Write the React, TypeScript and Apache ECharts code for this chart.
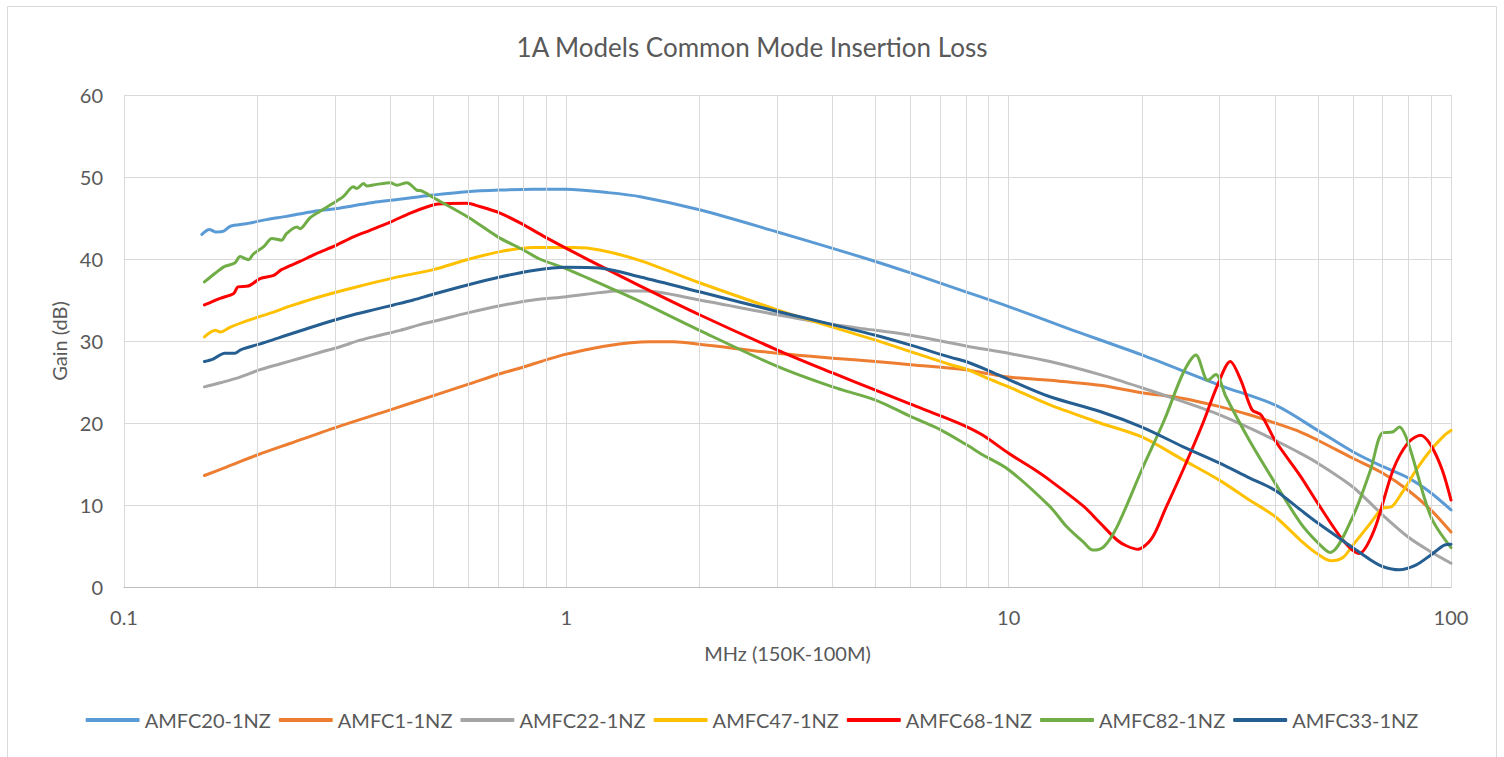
import React, { useEffect, useRef } from "react";
import * as echarts from "echarts";

const TITLE = "1A Models Common Mode Insertion Loss";
const X_NAME = "MHz (150K-100M)";
const Y_NAME = "Gain (dB)";
const SERIES_NAMES = ["AMFC20-1NZ", "AMFC1-1NZ", "AMFC22-1NZ", "AMFC47-1NZ", "AMFC68-1NZ", "AMFC82-1NZ", "AMFC33-1NZ"];
const COLORS = ["#5B9BD5", "#ED7D31", "#A5A5A5", "#FFC000", "#FF0000", "#70AD47", "#255E91"];
const MINOR_FREQS = [0.2, 0.3, 0.4, 0.5, 0.6, 0.7, 0.8, 0.9, 2, 3, 4, 5, 6, 7, 8, 9, 20, 30, 40, 50, 60, 70, 80, 90];

// [frequency MHz, gain dB]
const amfc20 = [[0.15, 43.0], [0.156, 43.6], [0.161, 43.3], [0.168, 43.4], [0.174, 44.0], [0.189, 44.3], [0.21, 44.8], [0.233, 45.2], [0.268, 45.8], [0.297, 46.1], [0.33, 46.5], [0.366, 46.9], [0.407, 47.2], [0.451, 47.5], [0.5, 47.8], [0.595, 48.2], [0.708, 48.4], [0.842, 48.5], [1.0, 48.5], [1.24, 48.1], [1.47, 47.6], [2, 46.0], [3, 43.3], [4, 41.3], [5, 39.7], [6, 38.3], [8, 36.0], [10, 34.2], [13.5, 31.6], [20, 28.3], [30, 24.6], [40, 22.2], [50, 19.1], [60, 16.5], [70, 14.7], [80, 13.3], [90, 11.5], [100, 9.4]];
const amfc1 = [[0.152, 13.6], [0.168, 14.5], [0.2, 16.1], [0.237, 17.5], [0.303, 19.5], [0.4, 21.6], [0.505, 23.4], [0.606, 24.8], [0.708, 26.0], [0.798, 26.8], [0.9, 27.7], [1.0, 28.4], [1.23, 29.4], [1.54, 29.9], [1.75, 29.9], [2, 29.6], [3, 28.5], [4, 27.9], [5, 27.5], [6, 27.1], [8, 26.5], [9, 26.0], [10, 25.6], [12.4, 25.2], [16.1, 24.6], [20, 23.7], [24.8, 23.0], [30, 22.0], [35, 21.0], [40, 20.0], [45.7, 18.9], [50, 17.9], [60, 15.7], [70, 13.9], [80, 11.8], [90, 9.4], [100, 6.7]];
const amfc22 = [[0.152, 24.4], [0.165, 24.9], [0.183, 25.6], [0.203, 26.5], [0.225, 27.2], [0.25, 27.9], [0.277, 28.6], [0.308, 29.3], [0.342, 30.1], [0.379, 30.7], [0.421, 31.3], [0.467, 32.0], [0.519, 32.6], [0.595, 33.4], [0.708, 34.3], [0.842, 35.0], [1.0, 35.4], [1.19, 35.9], [1.3, 36.1], [1.5, 36.1], [2, 35.0], [3, 33.2], [4, 32.0], [5, 31.3], [6, 30.7], [8, 29.4], [10, 28.5], [12.4, 27.5], [16.1, 25.9], [20, 24.3], [24.8, 22.6], [30, 21.0], [35, 19.4], [40, 17.9], [45.7, 16.3], [50, 15.1], [60, 12.2], [70, 8.8], [80, 6.1], [90, 4.3], [100, 2.9]];
const amfc47 = [[0.152, 30.5], [0.161, 31.3], [0.165, 31.1], [0.174, 31.7], [0.193, 32.6], [0.214, 33.4], [0.242, 34.4], [0.277, 35.4], [0.33, 36.5], [0.407, 37.7], [0.5, 38.7], [0.595, 39.9], [0.708, 40.9], [0.842, 41.4], [1.04, 41.4], [1.19, 41.1], [1.47, 39.8], [2, 37.1], [3, 33.8], [4, 31.7], [5, 30.1], [6, 28.7], [7.4, 27.1], [8, 26.6], [9, 25.4], [10, 24.4], [12.4, 22.2], [16.1, 20.0], [20, 18.3], [24.8, 15.5], [30, 13.0], [35, 10.6], [40, 8.6], [45.7, 5.7], [49.7, 4.1], [53.5, 3.2], [57, 3.6], [60, 5.1], [65.8, 7.8], [70, 9.6], [73.5, 9.8], [77.5, 11.5], [83.5, 14.3], [90, 16.7], [96.6, 18.5], [100, 19.1]];
const amfc68 = [[0.152, 34.4], [0.165, 35.2], [0.177, 35.8], [0.181, 36.6], [0.191, 36.7], [0.203, 37.6], [0.218, 38.0], [0.227, 38.7], [0.25, 39.7], [0.273, 40.7], [0.297, 41.5], [0.33, 42.7], [0.36, 43.5], [0.4, 44.5], [0.444, 45.6], [0.487, 46.4], [0.513, 46.7], [0.595, 46.8], [0.637, 46.4], [0.708, 45.6], [0.786, 44.4], [0.894, 42.7], [1.0, 41.3], [1.24, 38.7], [1.47, 36.7], [2, 33.2], [3, 28.9], [4, 26.1], [5, 24.0], [6, 22.3], [7, 20.9], [8, 19.6], [8.75, 18.5], [10, 16.3], [11.3, 14.5], [12.4, 13.0], [14.8, 9.8], [16.1, 7.8], [17.6, 5.7], [18.5, 5.0], [19.6, 4.6], [21.1, 6.0], [22.6, 9.5], [24.8, 14.3], [27.5, 20.0], [29.6, 24.5], [31.7, 27.5], [33.5, 25.2], [35.5, 21.6], [37.2, 21.0], [40, 17.9], [45.7, 13.5], [50, 10.2], [57, 5.7], [62, 4.1], [67, 6.9], [74, 14.3], [80, 17.6], [85.4, 18.5], [90, 17.3], [95.5, 14.3], [100, 10.6]];
const amfc82 = [[0.152, 37.2], [0.161, 38.3], [0.169, 39.1], [0.178, 39.5], [0.183, 40.3], [0.191, 39.9], [0.196, 40.6], [0.207, 41.5], [0.216, 42.5], [0.227, 42.3], [0.233, 43.1], [0.246, 43.9], [0.25, 43.7], [0.263, 45.0], [0.277, 45.8], [0.297, 46.8], [0.313, 47.6], [0.33, 48.8], [0.336, 48.6], [0.348, 49.2], [0.354, 48.9], [0.373, 49.1], [0.4, 49.3], [0.414, 49.0], [0.436, 49.3], [0.459, 48.4], [0.471, 48.3], [0.5, 47.5], [0.6, 45.1], [0.7, 42.7], [0.8, 41.1], [0.87, 40.0], [1.0, 38.8], [1.24, 36.6], [1.47, 34.8], [2, 31.3], [3, 26.9], [4, 24.4], [5, 22.8], [6, 20.8], [7, 19.2], [8, 17.4], [8.75, 16.1], [10, 14.3], [12.4, 9.8], [13.5, 7.4], [14.8, 5.4], [15.5, 4.5], [16.4, 4.9], [17.6, 7.4], [20, 14.3], [22.5, 20.4], [24.8, 26.1], [26.5, 28.3], [28.2, 25.2], [29.4, 25.9], [31, 23.2], [35, 17.9], [40, 12.7], [45.7, 7.8], [50, 5.4], [53.3, 4.2], [60, 8.6], [65.8, 14.3], [70, 18.8], [73.7, 18.9], [76.4, 19.5], [80, 17.6], [90, 8.6], [100, 4.8]];
const amfc33 = [[0.152, 27.5], [0.159, 27.8], [0.169, 28.5], [0.178, 28.5], [0.183, 28.9], [0.193, 29.3], [0.21, 29.9], [0.233, 30.7], [0.259, 31.5], [0.297, 32.5], [0.33, 33.2], [0.366, 33.8], [0.407, 34.4], [0.451, 35.0], [0.5, 35.7], [0.595, 36.8], [0.708, 37.8], [0.842, 38.6], [1.0, 39.0], [1.19, 38.9], [1.47, 37.8], [2, 36.0], [3, 33.6], [4, 32.0], [5, 30.7], [6, 29.5], [7.4, 28.0], [8, 27.5], [9, 26.4], [10, 25.3], [12.4, 23.2], [16.1, 21.4], [20, 19.5], [24.8, 17.1], [30, 15.1], [35, 13.3], [40, 11.8], [45.7, 9.4], [50, 7.8], [60, 4.8], [65.8, 3.3], [70, 2.5], [76.4, 2.1], [83.5, 2.7], [90, 3.9], [96.6, 5.1], [100, 5.2]];

const DATASETS = [amfc20, amfc1, amfc22, amfc47, amfc68, amfc82, amfc33];

const FONT = "Lato";
const TEXT_COLOR = "#595959";

export default function App() {
  const ref = useRef<HTMLDivElement>(null);
  useEffect(() => {
    const chart = echarts.init(ref.current!, null, { renderer: "svg" });
    const lines: any[] = DATASETS.map((d, i) => ({
      name: SERIES_NAMES[i],
      type: "line",
      data: d,
      showSymbol: false,
      smooth: 0.3,
      z: 3,
      lineStyle: { width: 3, color: COLORS[i], cap: "round", join: "round" },
      itemStyle: { color: COLORS[i] },
    }));
    lines.unshift({
      name: "_grid",
      type: "line",
      data: [],
      silent: true,
      z: 1,
      markLine: {
        silent: true,
        symbol: ["none", "none"],
        label: { show: false },
        lineStyle: { color: "#d9d9d9", width: 1, type: "solid" },
        emphasis: { disabled: true },
        data: MINOR_FREQS.map((f) => ({ xAxis: f })),
      },
    });
    chart.setOption({
      animation: false,
      backgroundColor: "#ffffff",
      textStyle: { fontFamily: FONT },
      title: {
        text: TITLE,
        left: "center",
        top: 29,
        textStyle: { fontFamily: FONT, fontSize: 26, fontWeight: "normal", color: TEXT_COLOR },
      },
      graphic: [
        {
          type: "rect",
          shape: { x: 7.5, y: 6.5, width: 1489, height: 780 },
          style: { fill: "none", stroke: "#d9d9d9", lineWidth: 1 },
          silent: true,
        },
      ],
      legend: {
        data: SERIES_NAMES,
        bottom: 22,
        left: "center",
        icon: "roundRect",
        itemWidth: 54,
        itemHeight: 4,
        itemGap: 8,
        textStyle: { fontFamily: FONT, fontSize: 20, color: TEXT_COLOR },
      },
      grid: { left: 124, right: 53, top: 95, bottom: 170, containLabel: false, outerBoundsMode: "none" },
      xAxis: {
        type: "log",
        logBase: 10,
        min: 0.1,
        max: 100,
        name: X_NAME,
        nameLocation: "middle",
        nameGap: 56,
        nameTextStyle: { fontFamily: FONT, fontSize: 20, color: TEXT_COLOR },
        axisLine: { show: true, lineStyle: { color: "#bfbfbf", width: 1 } },
        axisTick: { show: false },
        axisLabel: { fontFamily: FONT, fontSize: 20, color: TEXT_COLOR, margin: 20 },
        splitLine: { show: true, lineStyle: { color: "#d9d9d9", width: 1 } },
      },
      yAxis: {
        type: "value",
        min: 0,
        max: 60,
        interval: 10,
        name: Y_NAME,
        nameLocation: "middle",
        nameGap: 52,
        nameTextStyle: { fontFamily: FONT, fontSize: 20, color: TEXT_COLOR },
        axisLine: { show: false },
        axisTick: { show: false },
        axisLabel: { fontFamily: FONT, fontSize: 20, color: TEXT_COLOR, margin: 21 },
        splitLine: { show: true, lineStyle: { color: "#d9d9d9", width: 1 } },
      },
      series: lines,
    });
    return () => chart.dispose();
  }, []);
  return (
    <div
      ref={ref}
      style={{ position: "fixed", left: 0, top: 0, width: 1504, height: 757, background: "#ffffff" }}
    />
  );
}
